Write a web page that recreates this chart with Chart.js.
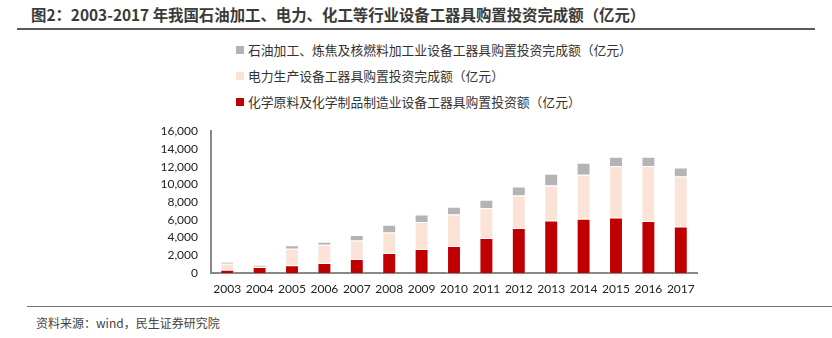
<!DOCTYPE html>
<html>
<head>
<meta charset="utf-8">
<script src="https://cdn.jsdelivr.net/npm/chart.js@4/dist/chart.umd.min.js"></script>
<style>
  body { margin: 0; background: #fff; width: 832px; height: 338px; position: relative; overflow: hidden;
         font-family: "Noto Sans CJK SC", "Noto Sans", sans-serif; }
  #title { position: absolute; left: 31px; top: 3px; font-size: 15.4px; font-weight: bold; color: #3a3a3a; white-space: nowrap; }
  #topLine { position: absolute; left: 17px; right: 17px; top: 28px; height: 2px; background: #595959; }
  #legend { position: absolute; left: 236px; top: 40px; font-size: 12.8px; color: #333; }
  .item { height: 26px; line-height: 20px; white-space: nowrap; }
  .box { display: inline-block; width: 8px; height: 8px; margin-right: 4px; vertical-align: 1px; }
  #wrap { position: absolute; left: 0; top: 111px; width: 832px; height: 192px; }
  #botLine { position: absolute; left: 27px; right: 0; top: 306px; height: 1px; background: #777; }
  #source { position: absolute; left: 36px; top: 314px; font-size: 12px; color: #444; }
</style>
</head>
<body>
<div id="title">图2：2003-2017 年我国石油加工、电力、化工等行业设备工器具购置投资完成额（亿元）</div>
<div id="topLine"></div>
<div id="legend"></div>
<div id="wrap"><canvas id="chart"></canvas></div>
<div id="botLine"></div>
<div id="source">资料来源：wind，民生证券研究院</div>
<script>
var years = ["2003", "2004", "2005", "2006", "2007", "2008", "2009", "2010", "2011", "2012", "2013", "2014", "2015", "2016", "2017"];

// 化学原料及化学制品制造业
var chemical = [380, 680, 870, 1130, 1580, 2250, 2700, 3040, 3940, 5070, 5930, 6120, 6270, 5860, 5260];
// 电力生产
var power = [670, 30, 1870, 2060, 2100, 2330, 3050, 3570, 3380, 3680, 3950, 4960, 5790, 6200, 5630];
// 石油加工、炼焦及核燃料加工业
var petroleum = [230, 190, 380, 340, 600, 870, 860, 860, 940, 1020, 1310, 1350, 1050, 1050, 1020];

var yTicks = [0, 2000, 4000, 6000, 8000, 10000, 12000, 14000, 16000];

var datasets = [
    {
        label: "化学原料及化学制品制造业设备工器具购置投资额（亿元）",
        data: chemical,
        backgroundColor: "#C00000",
        borderColor: "rgba(255,255,255,0.35)",
        borderWidth: 1
    },
    {
        label: "电力生产设备工器具购置投资完成额（亿元）",
        data: power,
        backgroundColor: "#FBE4D7",
        borderColor: "rgba(255,255,255,0.6)",
        borderWidth: 1
    },
    {
        label: "石油加工、炼焦及核燃料加工业设备工器具购置投资完成额（亿元）",
        data: petroleum,
        backgroundColor: "#B4B4B4",
        borderColor: "rgba(255,255,255,0.5)",
        borderWidth: 1
    }
];

// legend, top item is the last stacked series
var legendHtml = "";
for (var i = datasets.length - 1; i >= 0; i--) {
    legendHtml += '<div class="item"><span class="box" style="background:' + datasets[i].backgroundColor + '"></span>' + datasets[i].label + '</div>';
}
document.getElementById("legend").innerHTML = legendHtml;

var tickFont = { family: "Lato, 'Liberation Sans', sans-serif", size: 12 };

new Chart(document.getElementById("chart"), {
    type: "bar",
    data: { labels: years, datasets: datasets },
    options: {
        responsive: true,
        maintainAspectRatio: false,
        animation: false,
        layout: { padding: { top: 5, right: 135, left: 0, bottom: 0 } },
        datasets: { bar: { barPercentage: 0.43, categoryPercentage: 1 } },
        plugins: { legend: { display: false }, tooltip: { enabled: false } },
        scales: {
            x: {
                stacked: true,
                grid: { display: false, drawTicks: false },
                border: { display: true, color: "#888", width: 2 },
                ticks: { color: "#222", font: tickFont, padding: 9, maxRotation: 0, autoSkip: false },
                afterFit: function (axis) { axis.height = 30; }
            },
            y: {
                stacked: true,
                min: 0,
                max: 16000,
                afterBuildTicks: function (axis) {
                    axis.ticks = yTicks.map(function (v) { return { value: v }; });
                },
                grid: { display: false, drawTicks: false },
                border: { display: true, color: "#888", width: 2 },
                ticks: {
                    color: "#222",
                    font: tickFont,
                    padding: 13,
                    autoSkip: false,
                    callback: function (v) { return v.toLocaleString("en-US"); }
                },
                afterFit: function (axis) { axis.width = 211; }
            }
        }
    }
});
</script>
</body>
</html>
